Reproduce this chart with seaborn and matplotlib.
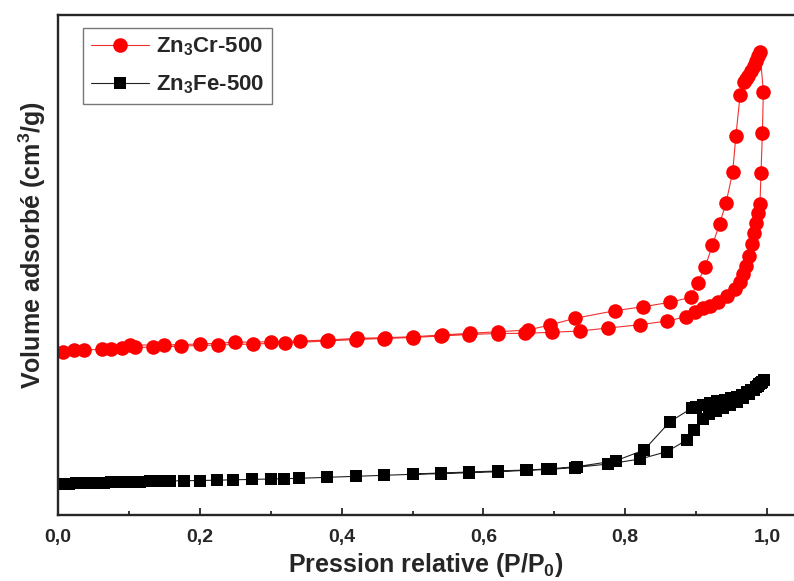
import matplotlib
matplotlib.use("Agg")
import matplotlib.pyplot as plt
import pandas as pd
import seaborn as sns
from matplotlib.ticker import MultipleLocator, FixedLocator

# isotherm values (arbitrary volume units), adsorption then desorption
cr_p = [0.0075, 0.022, 0.037, 0.062, 0.075, 0.090, 0.109, 0.134, 0.174, 0.225,
        0.275, 0.320, 0.380, 0.420, 0.460, 0.500, 0.540, 0.580, 0.620, 0.659,
        0.696, 0.736, 0.776, 0.821, 0.859, 0.886, 0.898, 0.910, 0.920, 0.931,
        0.943, 0.955, 0.962, 0.966, 0.970, 0.975, 0.979, 0.982, 0.985, 0.987,
        0.990, 0.9915, 0.9934, 0.9948, 0.990,
        0.987, 0.984, 0.981, 0.977, 0.973, 0.970, 0.967, 0.962, 0.956, 0.9515,
        0.942, 0.933, 0.923, 0.9126, 0.902, 0.8924, 0.863, 0.8256, 0.7856, 0.729,
        0.694, 0.663, 0.621, 0.581, 0.541, 0.501, 0.461, 0.421, 0.381, 0.341,
        0.301, 0.250, 0.200, 0.150, 0.102]
cr_v = [163.3, 165.0, 165.0, 165.7, 166.3, 166.7, 167.7, 167.7, 169.0, 170.0,
        171.0, 172.0, 174.0, 175.5, 176.5, 177.5, 179.0, 180.5, 181.5, 181.7,
        182.7, 184.0, 187.0, 190.3, 194.0, 198.3, 203.3, 206.7, 209.3, 213.3,
        219.0, 225.7, 233.3, 241.0, 249.3, 259.0, 270.7, 281.7, 291.7, 301.7,
        311.0, 342.3, 382.3, 423.3, 463.3,
        459.0, 454.0, 449.0, 444.0, 439.0, 436.0, 433.0, 420.0, 379.0, 342.7,
        311.7, 291.0, 270.0, 247.7, 232.3, 217.7, 212.7, 208.3, 204.3, 196.7,
        190.0, 185.0, 183.3, 181.7, 180.0, 178.3, 177.3, 176.7, 175.0, 174.0,
        173.3, 172.7, 171.0, 170.0, 170.0]

fe_p = [0.0075, 0.015, 0.025, 0.035, 0.045, 0.055, 0.065, 0.075, 0.085, 0.095,
        0.105, 0.116, 0.130, 0.145, 0.158, 0.177, 0.200, 0.224, 0.247, 0.273,
        0.300, 0.319, 0.340, 0.380, 0.420, 0.460, 0.500, 0.540, 0.580, 0.621,
        0.662, 0.695, 0.729, 0.776, 0.821, 0.8586, 0.8868, 0.897, 0.909, 0.918,
        0.928, 0.938, 0.948, 0.957, 0.966, 0.974, 0.981, 0.987, 0.992, 0.995,
        0.993, 0.989, 0.984, 0.978, 0.972, 0.965, 0.957, 0.949, 0.940, 0.930,
        0.920, 0.910, 0.900, 0.8937, 0.863, 0.8265, 0.787, 0.7315, 0.690, 0.660,
        0.620, 0.580, 0.540, 0.500]
fe_v = [31.0, 31.3, 31.6, 31.8, 32.0, 32.3, 32.5, 32.7, 32.9, 33.1,
        33.3, 33.5, 33.7, 33.9, 34.1, 34.3, 34.5, 34.8, 35.2, 35.6,
        36.0, 36.3, 36.7, 37.7, 38.7, 39.7, 40.7, 41.3, 42.3, 43.3,
        44.7, 45.7, 47.5, 51.0, 56.0, 63.3, 75.0, 85.0, 95.7, 101.0,
        104.0, 107.0, 110.0, 113.0, 117.0, 121.0, 125.0, 129.0, 132.0, 135.0,
        133.5, 131.0, 128.0, 125.0, 122.7, 120.5, 118.5, 117.0, 115.5, 114.0,
        112.0, 110.0, 108.5, 106.7, 93.3, 65.0, 54.3, 48.3, 46.0, 45.0,
        44.0, 43.0, 42.0, 41.0]

x_ticks = [0.0, 0.2, 0.4, 0.6, 0.8, 1.0]
x_ticklabels = ["0,0", "0,2", "0,4", "0,6", "0,8", "1,0"]

sns.set_style("ticks")
plt.rcParams["font.family"] = ["Liberation Sans", "DejaVu Sans"]
plt.rcParams["font.weight"] = "bold"
plt.rcParams["mathtext.fontset"] = "custom"
plt.rcParams["mathtext.rm"] = "Liberation Sans:bold"
plt.rcParams["mathtext.bf"] = "Liberation Sans:bold"
plt.rcParams["mathtext.default"] = "bf"

fig = plt.figure(figsize=(7.94, 5.81), dpi=100)
ax = fig.add_axes([58 / 794, 66 / 581, 736 / 794, 500 / 581])

cr = pd.DataFrame({"p": cr_p, "v": cr_v})
fe = pd.DataFrame({"p": fe_p, "v": fe_v})

sns.lineplot(data=cr, x="p", y="v", sort=False, estimator=None, ax=ax,
             color="#f23030", lw=0.8, marker="o", markersize=10.5,
             markerfacecolor="#ff0000", markeredgewidth=0, label="Zn$_3$Cr-500")
sns.lineplot(data=fe, x="p", y="v", sort=False, estimator=None, ax=ax,
             color="#222222", lw=0.8, marker="s", markersize=8.8,
             markerfacecolor="black", markeredgewidth=0, label="Zn$_3$Fe-500")

ax.set_xlim(0, 1.038)
ax.set_ylim(0, 500)
ax.xaxis.set_major_locator(FixedLocator(x_ticks))
ax.set_xticklabels(x_ticklabels)
ax.xaxis.set_minor_locator(MultipleLocator(0.1))
ax.set_yticks([])
ax.tick_params(axis="x", which="major", direction="in", length=5, width=1.3,
               labelsize=14, pad=10)
ax.tick_params(axis="x", which="minor", direction="in", length=3, width=1.3)
for lab in ax.get_xticklabels():
    lab.set_fontweight("bold")

for side in ["left", "bottom", "top"]:
    ax.spines[side].set_linewidth(1.7)
ax.spines["right"].set_visible(False)

ax.set_xlabel("Pression relative (P/P$_0$)", fontsize=18, fontweight="bold",
              labelpad=4)
ax.set_ylabel("Volume adsorbé (cm$^3$/g)", fontsize=18, fontweight="bold")
ax.yaxis.set_label_coords(-0.013, 0.54)

leg = ax.legend(loc="upper left", bbox_to_anchor=(0.034, 0.974),
                borderaxespad=0, fontsize=16, frameon=True, fancybox=False,
                handlelength=2.6, borderpad=0.35, labelspacing=0.68,
                handletextpad=0.35)
leg.get_frame().set_edgecolor("#555555")
leg.get_frame().set_linewidth(1.0)
for t in leg.get_texts():
    t.set_fontweight("bold")

fig.savefig("out.png", dpi=100)
